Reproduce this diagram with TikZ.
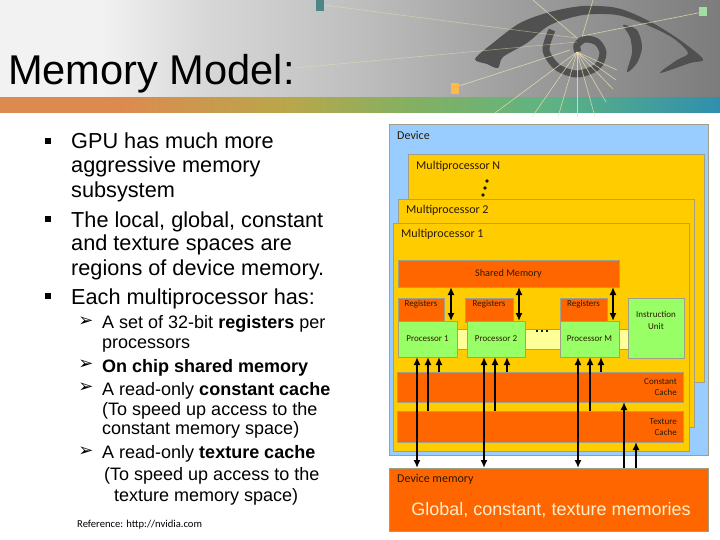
\documentclass[tikz,border=0pt]{standalone}
\usepackage{fontspec}
\usepackage{tikz}
\setmainfont{Liberation Sans}
\newfontfamily\diagramfont{Carlito}
\newfontfamily\symbolfont{DejaVu Sans}
\usetikzlibrary{arrows.meta}
\definecolor{devblue}{HTML}{99CCFF}
\definecolor{mpyellow}{HTML}{FFCC00}
\definecolor{memorange}{HTML}{FF6600}
\definecolor{procgreen}{HTML}{99FF66}
\definecolor{buspale}{HTML}{FFFF99}
\definecolor{edgegrey}{HTML}{A0A088}
\definecolor{inktext}{HTML}{2A1A05}
\definecolor{raycream}{HTML}{EFE3B0}
\definecolor{eyegrey}{HTML}{505050}
\definecolor{memtext}{HTML}{FFEFCF}
\definecolor{headA}{HTML}{F2F2F2}
\definecolor{headB}{HTML}{D8D8D8}
\definecolor{headC}{HTML}{BEBEBE}
\definecolor{headD}{HTML}{A0A0A0}
\definecolor{headE}{HTML}{7C7C7C}
\definecolor{bandA}{HTML}{DD8A50}
\definecolor{bandB}{HTML}{B9A74A}
\definecolor{bandC}{HTML}{86B060}
\definecolor{bandD}{HTML}{5FB382}
\definecolor{bandE}{HTML}{2F8FAE}
\pgfdeclarehorizontalshading{headshade}{100bp}{color(0bp)=(headA); color(25bp)=(headA); color(32bp)=(headA); color(39bp)=(headB); color(50bp)=(headC); color(60bp)=(headD); color(75bp)=(headE); color(100bp)=(headE)}
\pgfdeclarehorizontalshading{bandshade}{100bp}{color(0bp)=(bandA); color(25bp)=(bandA); color(33bp)=(bandA); color(45bp)=(bandB); color(53bp)=(bandC); color(63bp)=(bandD); color(75bp)=(bandE); color(100bp)=(bandE)}
\tikzset{box/.style = {draw=edgegrey, line width=0.8, anchor=north west, inner sep=0, outer sep=0}}
\tikzset{devicebox/.style = {box, fill=devblue}}
\tikzset{mpbox/.style = {box, fill=mpyellow}}
\tikzset{membox/.style = {box, fill=memorange, text=inktext, font=\diagramfont\fontsize{10.2}{12}\selectfont}}
\tikzset{procbox/.style = {box, fill=procgreen, text=inktext, font=\diagramfont\fontsize{9}{11}\selectfont}}
\tikzset{biglabel/.style = {anchor=west, inner sep=0, text=inktext, font=\diagramfont\fontsize{12}{13}\selectfont}}
\tikzset{smalllabel/.style = {inner sep=0, text=inktext, align=center, font=\diagramfont\fontsize{9}{11.6}\selectfont}}
\tikzset{bodyline/.style = {anchor=base west, inner sep=0, font=\fontsize{21.7}{24}\selectfont}}
\tikzset{subline/.style = {anchor=base west, inner sep=0, font=\fontsize{18}{20}\selectfont}}
\tikzset{squarebullet/.style = {fill=black, inner sep=0, minimum size=5.5}}
\tikzset{arrowbullet/.style = {inner sep=0, font=\symbolfont\fontsize{18}{20}\selectfont}}
\tikzset{dotmark/.style = {fill=black!85!green, circle, inner sep=0, minimum size=3.6}}
\tikzset{oneway/.style = {-{Latex[length=8, width=7]}, line width=1.6}}
\tikzset{twoway/.style = {{Latex[length=8, width=7]}-{Latex[length=8, width=7]}, line width=1.6}}
\tikzset{ray/.style = {draw=raycream, line width=0.6, opacity=0.8}}
\begin{document}
\begin{tikzpicture}[x=1pt, y=-1pt]
  \useasboundingbox (0, 0) rectangle (720, 540);
  \fill [white] (0, 0) rectangle (720, 540);

  % header
  \shade [shading=headshade] (0, 0) rectangle (720, 99);
  \shade [shading=bandshade] (0, 98) rectangle (720, 113);
  \fill [eyegrey] plot [smooth cycle, tension=0.5] coordinates {(475,59) (493,43) (520,23) (550,12) (583,6) (617,8) (647,20) (677,38) (703,59) (690,63) (660,73) (677,60) (688,53) (673,38) (647,25) (617,15) (583,15) (550,25) (527,43) (503,57) (498,68) (487,64)};
  \fill [eyegrey] plot [smooth cycle, tension=0.5] coordinates {(637,30) (642,47) (637,63) (627,72) (632,53) (630,37) (623,25)};
  \draw [eyegrey, line width=7] plot [smooth] coordinates {(552,30) (546,50) (557,67) (577,74) (597,67) (603,53) (597,42) (585,39) (577,45) (578,52)};
  \foreach \rx/\ry in {495/113, 532/117, 558/117, 577/117, 595/117, 606/102, 613/89, 616/80, 617/70}
    \draw [ray] (577, 52) -- (\rx, \ry);
  \draw [ray] (577, 38) -- (533, 0);
  \draw [ray] (582, 37) -- (593, 0);
  \draw [ray] (582, 36) -- (703, 12);
  \draw [ray, opacity=0.5] (577, 38) -- (324, 5);
  \draw [ray, opacity=0.5] (577, 42) -- (295, 68);
  \draw [ray] (570, 50) -- (459, 86);
  \fill [black!35!teal!70] (316, 0) rectangle (324, 11);
  \fill [green!50!gray!50] (699, 7) rectangle (707, 16);
  \fill [orange!80!yellow!70] (451, 83) rectangle (459, 94);
  \node [anchor=base west, inner sep=0, font=\fontsize{41.6}{44}\selectfont] (title) at (8, 85) {Memory Model:};

  % left column
  \foreach \y/\txt in {149/GPU has much more, 173/aggressive memory, 198/subsystem, 227/{The local, global, constant}, 251/and texture spaces are, 275/regions of device memory., 304/Each multiprocessor has:}
    \node [bodyline] (body\y) at (71, \y) {\txt};
  \foreach \y in {141, 219, 296}
    \node [squarebullet] (square\y) at (48, \y) {};
  \foreach \y in {322, 365, 388, 452}
    \node [arrowbullet] (tick\y) at (86, \y) {➢};
  \node [subline] (sub1) at (102, 328) {A set of 32-bit \textbf{registers} per};
  \node [subline] (sub2) at (102, 348) {processors};
  \node [subline] (sub3) at (102, 372) {\textbf{On chip shared memory}};
  \node [subline] (sub4) at (102, 395) {A read-only \textbf{constant cache}};
  \node [subline] (sub5) at (102, 415) {(To speed up access to the};
  \node [subline] (sub6) at (102, 434) {constant memory space)};
  \node [subline] (sub7) at (102, 458) {A read-only \textbf{texture cache}};
  \node [subline] (sub8) at (104, 480) {(To speed up access to the};
  \node [subline] (sub9) at (114, 501) {texture memory space)};
  \node [anchor=base west, inner sep=0, font=\diagramfont\fontsize{10.6}{12}\selectfont] (refline) at (77, 527) {Reference: http://nvidia.com};

  % nested boxes
  \node [devicebox, minimum width=319, minimum height=331] (device) at (389, 124) {};
  \node [biglabel] (devicelabel) at (397, 135) {Device};
  \node [mpbox, minimum width=296, minimum height=228] (mpN) at (408, 154) {};
  \node [biglabel] (mpNlabel) at (416, 166) {Multiprocessor N};
  \foreach \dx/\dy in {487/181, 485/188, 483/195}
    \node [dotmark] (vdot\dx) at (\dx, \dy) {};
  \node [mpbox, minimum width=296, minimum height=228] (mp2) at (398, 199) {};
  \node [biglabel] (mp2label) at (406, 210) {Multiprocessor 2};
  \node [mpbox, minimum width=296, minimum height=228] (mp1) at (393, 223) {};
  \node [biglabel] (mp1label) at (401, 234) {Multiprocessor 1};

  \node [membox, minimum width=221, minimum height=27] (shared) at (398, 260) {Shared Memory};
  \node [draw=edgegrey, fill=buspale, anchor=north west, inner sep=0, outer sep=0, minimum width=171, minimum height=20] (bus) at (457, 329) {};
  \foreach \dx in {537, 542, 547}
    \node [fill=black!85!green, inner sep=0, minimum size=2.6] (hdot\dx) at (\dx, 331) {};

  \foreach \rx/\rw/\rid in {398/46/1, 465/48/2, 560/47/M} {
    \node [membox, minimum width=\rw, minimum height=24] (reg\rid) at (\rx, 298) {};
    \node [smalllabel] (reglabel\rid) at (\rx + \rw / 2, 304) {Registers};
  }
  \node [procbox, minimum width=59, minimum height=36] (proc1) at (398, 321) {Processor 1};
  \node [procbox, minimum width=58, minimum height=36] (proc2) at (467, 321) {Processor 2};
  \node [procbox, minimum width=59, minimum height=36] (procM) at (560, 321) {Processor M};
  \node [procbox, minimum width=56, minimum height=60] (instr) at (628, 298) {};
  \node [smalllabel] (instrlabel) at (656, 320.5) {Instruction\\Unit};

  \node [membox, minimum width=286, minimum height=30] (constant) at (397, 372) {};
  \node [smalllabel, anchor=east, align=right] (constantlabel) at (677, 387) {Constant\\Cache};
  \node [membox, minimum width=286, minimum height=31] (texture) at (397, 411) {};
  \node [smalllabel, anchor=east, align=right] (texturelabel) at (677, 427) {Texture\\Cache};
  \node [membox, minimum width=319, minimum height=63] (devmem) at (389, 468) {};
  \node [biglabel] (devmemlabel) at (397, 479) {Device memory};
  \node [inner sep=0, text=memtext, font=\fontsize{18}{20}\selectfont] (globallabel) at (551, 510) {Global, constant, texture memories};

  % connectors
  \foreach \x/\p in {451/proc1, 519/proc2, 613/procM} {
    \coordinate (up\x) at (\x, 0);
    \draw [twoway] (shared.south -| up\x) -- (\p.north -| up\x);
  }
  \foreach \x/\p in {417/proc1, 484/proc2, 578/procM} {
    \coordinate (long\x) at (\x, 0);
    \draw [twoway] (devmem.north -| long\x) -- (\p.south -| long\x);
  }
  \foreach \x/\p in {428/proc1, 495/proc2, 590/procM} {
    \coordinate (tex\x) at (\x, 0);
    \draw [oneway] (texture.north -| tex\x) -- (\p.south -| tex\x);
  }
  \foreach \x/\p in {439/proc1, 507/proc2, 601/procM} {
    \coordinate (con\x) at (\x, 0);
    \draw [oneway] (constant.north -| con\x) -- (\p.south -| con\x);
  }
  \coordinate (feedconst) at (624, 0);
  \coordinate (feedtex) at (636, 0);
  \draw [oneway] (devmem.north -| feedconst) -- (constant.south -| feedconst);
  \draw [oneway] (devmem.north -| feedtex) -- (texture.south -| feedtex);
\end{tikzpicture}
\end{document}
